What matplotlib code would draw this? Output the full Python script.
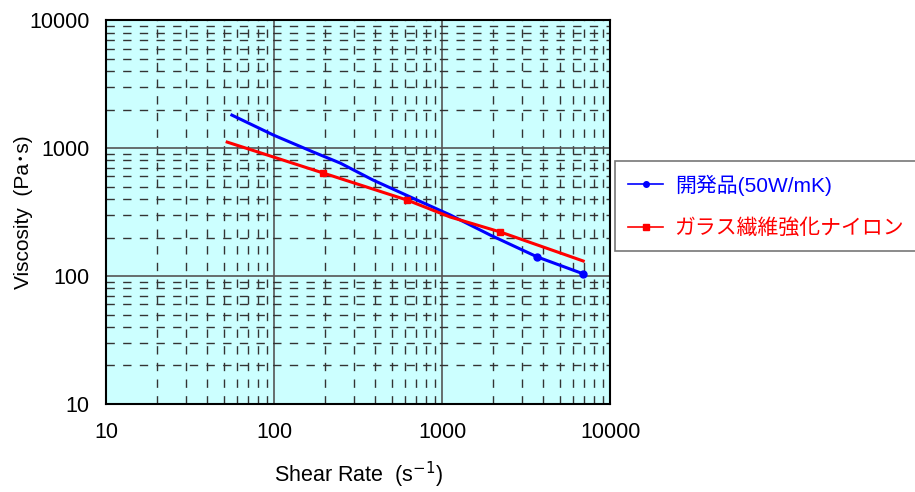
import numpy as np
import matplotlib
import matplotlib.pyplot as plt
from matplotlib.ticker import LogLocator, FixedLocator, NullFormatter
matplotlib.use('Agg')

plt.rcParams['font.family'] = ['Liberation Sans', 'Noto Sans CJK JP']

# blue: developed product
blue_x = [56, 99, 171, 247, 388, 710, 1116, 1931, 3675, 6900]
blue_y = [1811, 1264, 931, 764, 562, 392, 300, 209, 141, 104]
blue_label = '開発品(50W/mK)'

# red: glass fibre reinforced nylon
red_x = [52.5, 196, 619, 1116, 2213, 6900]
red_y = [1114, 638, 392, 289, 221, 131]
red_label = 'ガラス繊維強化ナイロン'

x_ticks = [10, 100, 1000, 10000]
y_ticks = [10, 100, 1000, 10000]

fig = plt.figure(figsize=(9.15, 4.92), dpi=100)
ax = fig.add_axes([0.116, 0.179, 0.551, 0.78])
ax.set_facecolor('#ccffff')
ax.set_xscale('log')
ax.set_yscale('log')
ax.set_xlim(10, 10000)
ax.set_ylim(10, 10000)

ax.plot(blue_x, blue_y, color='#0000ff', lw=2.2, marker='o', ms=5,
        markevery=[8, 9], label=blue_label)
ax.plot(red_x, red_y, color='#ff0000', lw=2.2, marker='s', ms=5,
        markevery=[1, 2, 4], label=red_label)

ax.xaxis.set_major_locator(FixedLocator(x_ticks))
ax.yaxis.set_major_locator(FixedLocator(y_ticks))
ax.xaxis.set_minor_locator(LogLocator(base=10, subs=np.arange(2, 10)))
ax.yaxis.set_minor_locator(LogLocator(base=10, subs=np.arange(2, 10)))
ax.xaxis.set_minor_formatter(NullFormatter())
ax.yaxis.set_minor_formatter(NullFormatter())
ax.set_xticklabels([str(t) for t in x_ticks])
ax.set_yticklabels([str(t) for t in y_ticks])
ax.tick_params(which='both', length=0, labelsize=15.5)
ax.tick_params(axis='x', pad=13)
ax.tick_params(axis='y', pad=12)

ax.grid(which='major', color='#555555', lw=1.2, ls='-')
ax.grid(which='minor', color='#333333', lw=1.0, ls=(0, (6, 6)))
ax.set_axisbelow(True)
for s in ax.spines.values():
    s.set_linewidth(1.5)

ax.set_xlabel('Shear Rate  (s$^{-1}$)', fontsize=15.5, labelpad=12)
ax.set_ylabel('Viscosity  (Pa･s)', fontsize=15)
ax.yaxis.set_label_coords(-0.145, 0.5)

leg = fig.legend(loc='upper left', bbox_to_anchor=(0.672, 0.672),
                 borderaxespad=0, fontsize=15, frameon=True, fancybox=False,
                 handlelength=1.7, borderpad=0.62, labelspacing=1.1,
                 handletextpad=0.55, markerscale=0.8)
leg.get_frame().set_edgecolor('#555555')
leg.get_frame().set_linewidth(1.2)
for line in leg.get_lines():
    line.set_linewidth(1.2)
for t, c in zip(leg.get_texts(), ['#0000ff', '#ff0000']):
    t.set_color(c)

fig.savefig('out.png', dpi=100)
